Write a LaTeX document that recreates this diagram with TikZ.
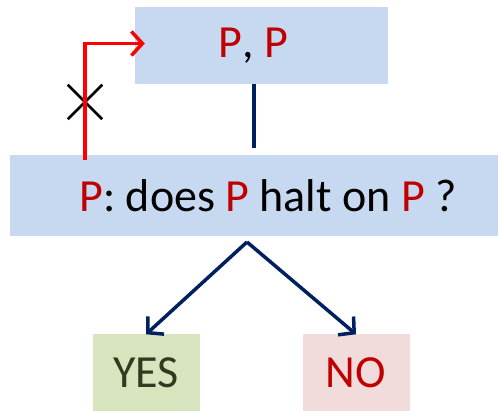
\documentclass[tikz,border=0pt]{standalone}
\usepackage{fontspec}
\setmainfont{Carlito}
\usepackage{tikz}
\usetikzlibrary{positioning, arrows.meta, shapes.misc}
\definecolor{boxblue}{HTML}{C6D9F1}
\definecolor{boxgreen}{HTML}{D7E4BD}
\definecolor{boxpink}{HTML}{F2DCDB}
\definecolor{darkred}{HTML}{C00000}
\definecolor{navy}{HTML}{002060}
\definecolor{olive}{HTML}{2F3A1F}
\tikzset{
x=1pt, y=-1pt, % one unit is one pixel of the reference
every node/.style={font=\fontsize{46}{54}\selectfont, inner sep=0pt}, % sets the text size
panel/.style={fill=boxblue}, % the blue boxes
answer/.style={minimum width=107pt, minimum height=77pt}, % the YES and NO boxes
flow/.style={draw=navy, line width=3.5pt, -{Straight Barb[length=11pt,width=24pt,line width=3.5pt]}}, % sets the dark arrows
}
\newcommand{\rP}{\textcolor{darkred}{P}}

\begin{document}
\begin{tikzpicture}
            \useasboundingbox (0,0) rectangle (498,411);

            \node[panel, minimum width=253pt, minimum height=77pt] (top) at (261.5,45.5) {\hspace*{-16pt}\rP, \rP};
            \node[panel, minimum width=488pt, minimum height=81pt] (query) at (254,195.5) {\hspace*{28pt}\rP: does \rP\ halt on \rP\ ?};
            \node[answer, fill=boxgreen, text=olive] (yes) at (146,373) {YES};
            \node[answer, fill=boxpink, text=darkred] (no) at (356,373) {NO};
            \node[cross out, draw, line width=2.5pt, minimum size=32pt] (cut) at (85,102) {};

            \coordinate (back) at (85,160);
            \coordinate (fork) at (247,242);

            \draw[navy, line width=3.5pt] (top.south -| 254,0) -- (254,148);
            \draw[red, line width=3.5pt, -{Straight Barb[length=11pt,width=24pt,line width=3.5pt]}]
                    (back) |- ([xshift=10pt, yshift=2pt]top.west);
            \draw[flow] (fork) -- (yes.north);
            \draw[flow] (fork) -- (no.north);
        \end{tikzpicture}
\end{document}
